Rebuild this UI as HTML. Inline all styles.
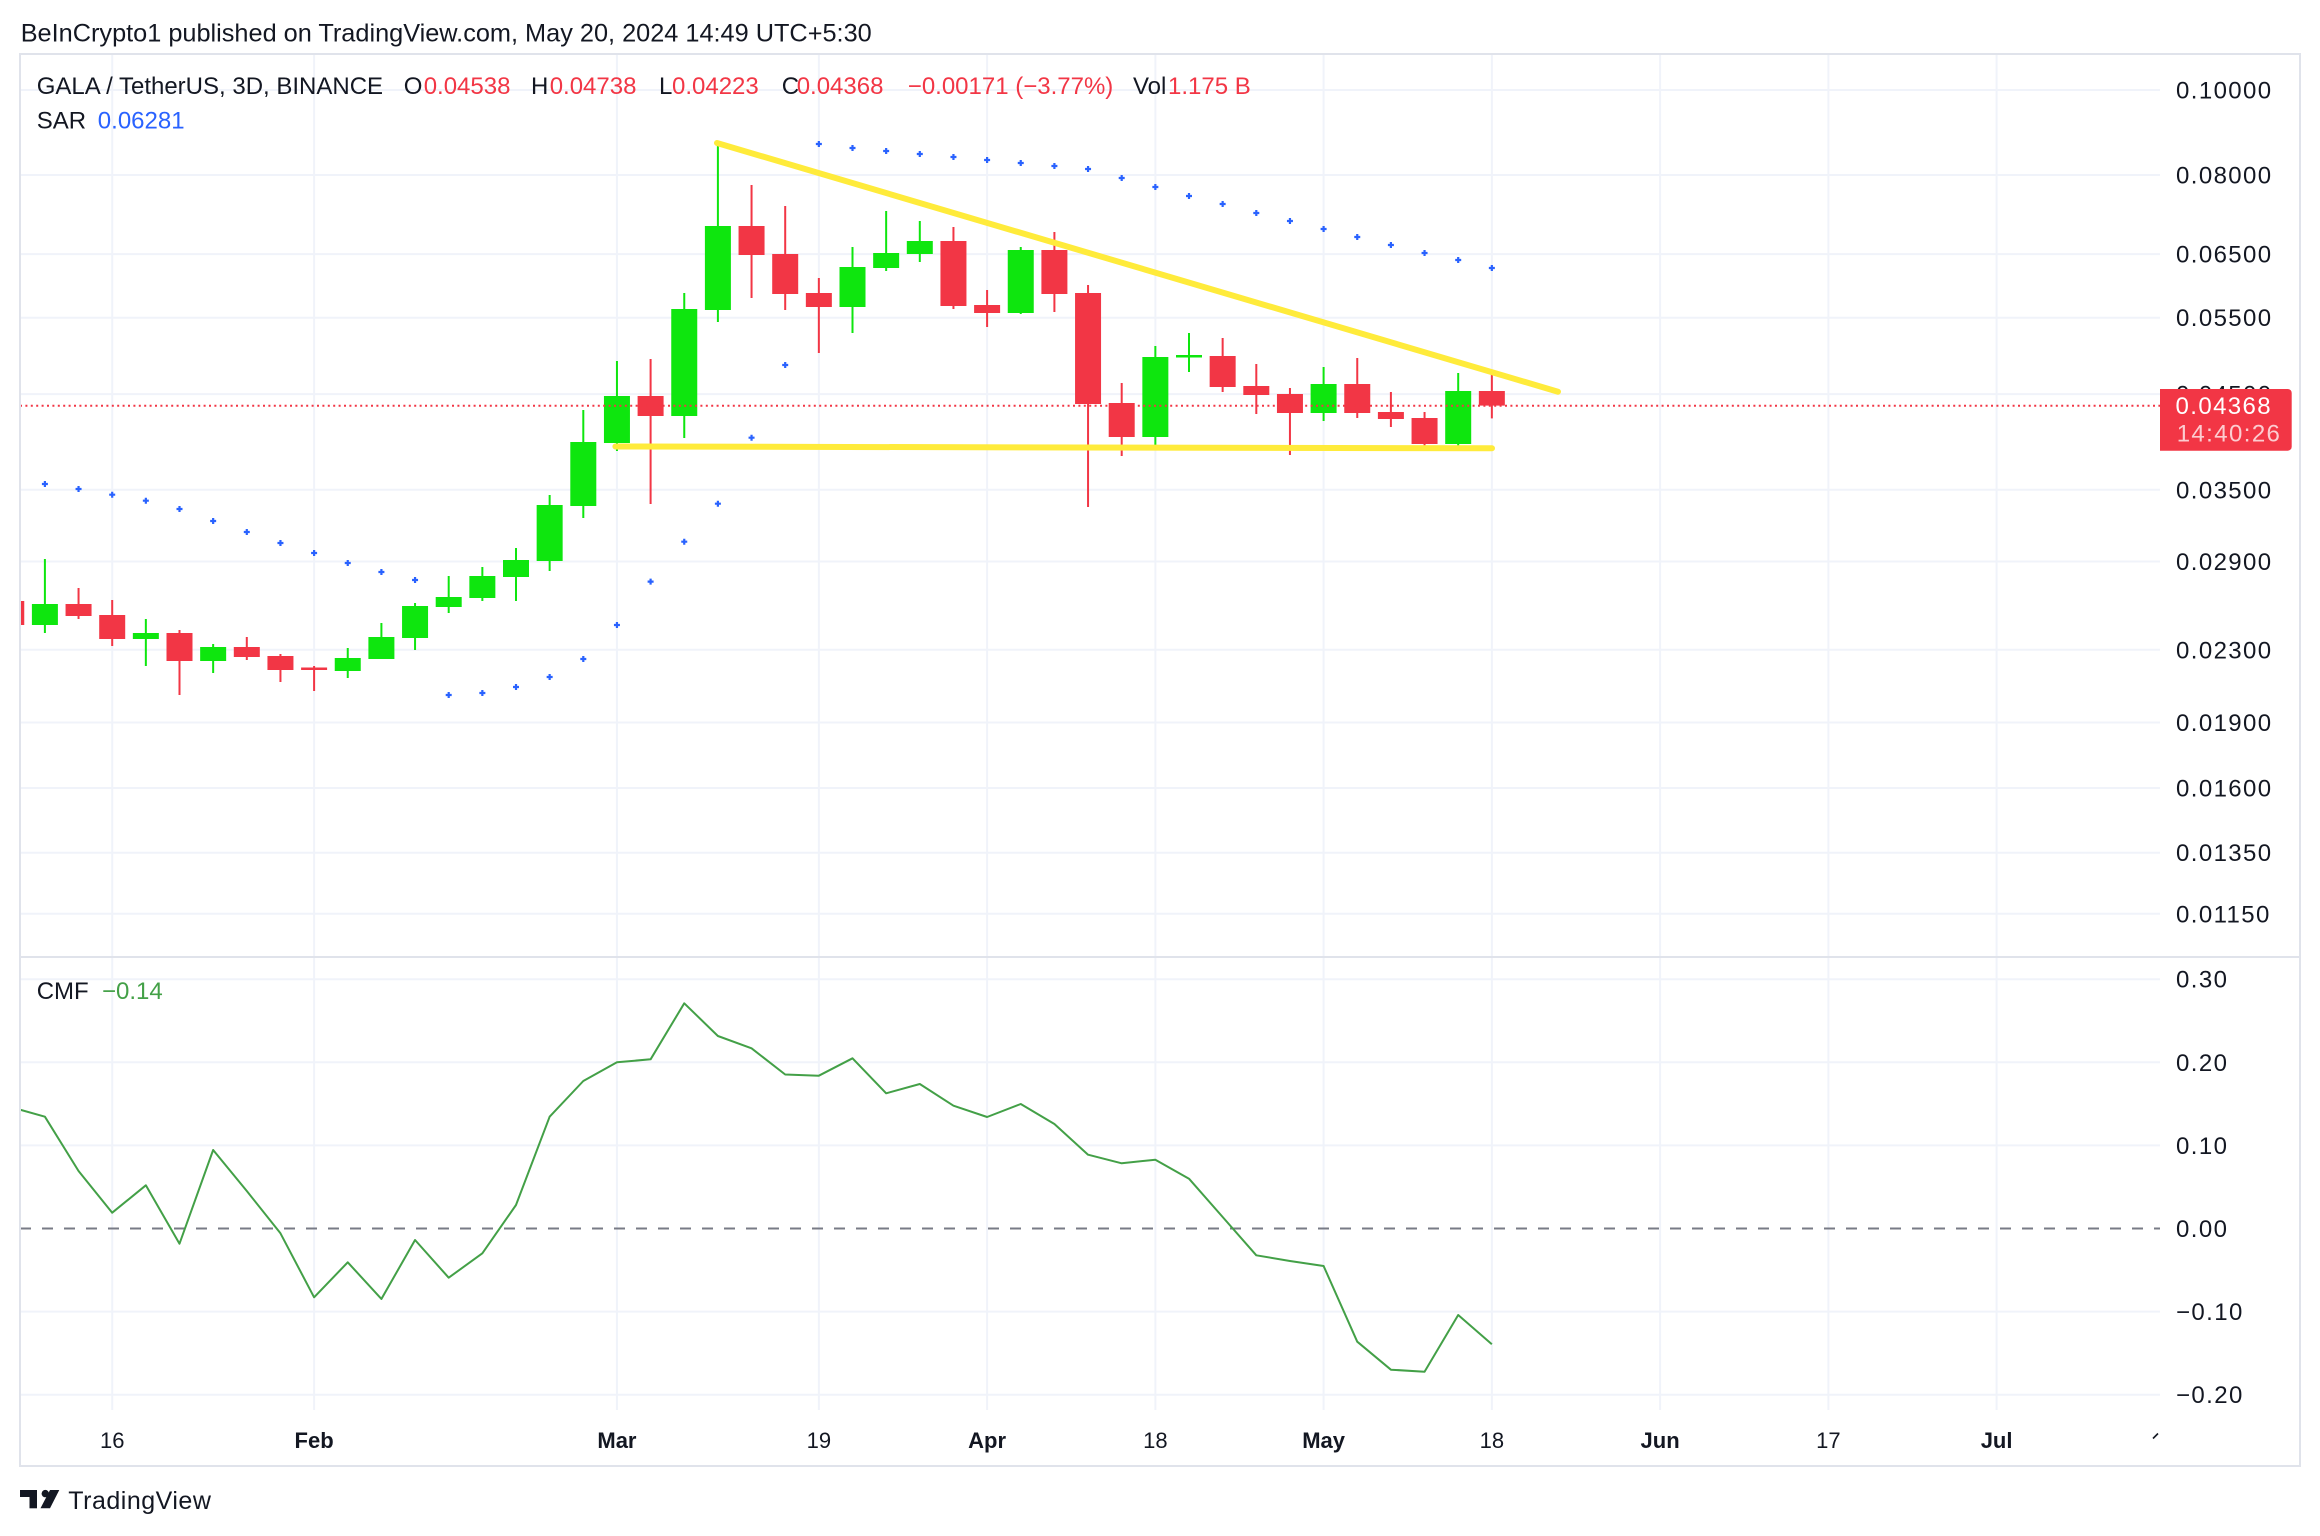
<!DOCTYPE html>
<html>
<head>
<meta charset="utf-8">
<style>
html,body{margin:0;padding:0;background:#fff;}
svg{display:block;}
text{font-family:"Liberation Sans",Arial,sans-serif;}
.g{fill:#0ee60e;}
.r{fill:#f23645;}
.ax{font-size:24px;fill:#131722;letter-spacing:1.4px;}
.tl{font-size:22px;fill:#131722;text-anchor:middle;}
.tb{font-size:22px;fill:#131722;text-anchor:middle;font-weight:bold;}
.lg{font-size:24px;fill:#131722;}
.red{fill:#f23645;}
</style>
</head>
<body>
<svg width="2320" height="1536" viewBox="0 0 2320 1536" xmlns="http://www.w3.org/2000/svg">
<defs>
<clipPath id="pp"><rect x="20" y="55" width="2140" height="902"/></clipPath>
<clipPath id="cp"><rect x="20" y="958" width="2140" height="452"/></clipPath>
</defs>
<rect x="0" y="0" width="2320" height="1536" fill="#fff"/>

<!-- header -->
<text x="20.7" y="41.7" style="font-size:25.3px;fill:#131722">BeInCrypto1 published on TradingView.com, May 20, 2024 14:49 UTC+5:30</text>

<!-- vertical gridlines -->
<g stroke="#f0f3fa" stroke-width="2">
<line x1="112.2" y1="55" x2="112.2" y2="1410"/>
<line x1="314.1" y1="55" x2="314.1" y2="1410"/>
<line x1="616.95" y1="55" x2="616.95" y2="1410"/>
<line x1="818.85" y1="55" x2="818.85" y2="1410"/>
<line x1="987.1" y1="55" x2="987.1" y2="1410"/>
<line x1="1155.35" y1="55" x2="1155.35" y2="1410"/>
<line x1="1323.6" y1="55" x2="1323.6" y2="1410"/>
<line x1="1491.85" y1="55" x2="1491.85" y2="1410"/>
<line x1="1660.1" y1="55" x2="1660.1" y2="1410"/>
<line x1="1828.35" y1="55" x2="1828.35" y2="1410"/>
<line x1="1996.6" y1="55" x2="1996.6" y2="1410"/>
</g>
<!-- horizontal gridlines price -->
<g stroke="#f0f3fa" stroke-width="2">
<line x1="20" y1="90" x2="2160" y2="90"/>
<line x1="20" y1="175" x2="2160" y2="175"/>
<line x1="20" y1="254.1" x2="2160" y2="254.1"/>
<line x1="20" y1="317.7" x2="2160" y2="317.7"/>
<line x1="20" y1="394.1" x2="2160" y2="394.1"/>
<line x1="20" y1="489.8" x2="2160" y2="489.8"/>
<line x1="20" y1="561.5" x2="2160" y2="561.5"/>
<line x1="20" y1="649.8" x2="2160" y2="649.8"/>
<line x1="20" y1="722.5" x2="2160" y2="722.5"/>
<line x1="20" y1="788" x2="2160" y2="788"/>
<line x1="20" y1="852.7" x2="2160" y2="852.7"/>
<line x1="20" y1="913.8" x2="2160" y2="913.8"/>
<line x1="20" y1="979.2" x2="2160" y2="979.2"/>
<line x1="20" y1="1062.3" x2="2160" y2="1062.3"/>
<line x1="20" y1="1145.4" x2="2160" y2="1145.4"/>
<line x1="20" y1="1311.6" x2="2160" y2="1311.6"/>
<line x1="20" y1="1394.7" x2="2160" y2="1394.7"/>
</g>

<!-- candles -->
<g clip-path="url(#pp)">
<rect class="r" x="-1.75" y="601" width="26" height="24"/>
<rect class="g" x="43.9" y="559" width="2" height="74"/><rect class="g" x="31.9" y="604" width="26" height="21"/>
<rect class="r" x="77.55" y="588" width="2" height="31"/><rect class="r" x="65.55" y="604" width="26" height="12"/>
<rect class="r" x="111.2" y="600" width="2" height="46"/><rect class="r" x="99.2" y="615" width="26" height="24"/>
<rect class="g" x="144.85" y="619" width="2" height="47"/><rect class="g" x="132.85" y="633" width="26" height="6"/>
<rect class="r" x="178.5" y="630" width="2" height="65"/><rect class="r" x="166.5" y="633" width="26" height="28"/>
<rect class="g" x="212.15" y="644" width="2" height="29"/><rect class="g" x="200.15" y="647" width="26" height="14"/>
<rect class="r" x="245.8" y="637" width="2" height="23"/><rect class="r" x="233.8" y="647" width="26" height="10"/>
<rect class="r" x="279.45" y="654" width="2" height="28"/><rect class="r" x="267.45" y="656" width="26" height="14"/>
<rect class="r" x="313.1" y="666" width="2" height="25"/><rect class="r" x="301.1" y="667.5" width="26" height="2.5"/>
<rect class="g" x="346.75" y="648" width="2" height="30"/><rect class="g" x="334.75" y="658" width="26" height="13"/>
<rect class="g" x="380.4" y="623" width="2" height="36"/><rect class="g" x="368.4" y="637" width="26" height="22"/>
<rect class="g" x="414.05" y="603" width="2" height="47"/><rect class="g" x="402.05" y="606" width="26" height="32"/>
<rect class="g" x="447.7" y="576" width="2" height="37"/><rect class="g" x="435.7" y="597" width="26" height="10"/>
<rect class="g" x="481.35" y="567" width="2" height="34"/><rect class="g" x="469.35" y="576" width="26" height="22"/>
<rect class="g" x="515" y="548" width="2" height="53"/><rect class="g" x="503" y="560" width="26" height="17"/>
<rect class="g" x="548.65" y="495" width="2" height="76"/><rect class="g" x="536.65" y="505" width="26" height="56"/>
<rect class="g" x="582.3" y="410" width="2" height="108"/><rect class="g" x="570.3" y="442" width="26" height="64"/>
<rect class="g" x="615.95" y="361" width="2" height="90"/><rect class="g" x="603.95" y="396" width="26" height="47"/>
<rect class="r" x="649.6" y="359" width="2" height="145"/><rect class="r" x="637.6" y="396" width="26" height="20"/>
<rect class="g" x="683.25" y="293" width="2" height="145"/><rect class="g" x="671.25" y="309" width="26" height="107"/>
<rect class="g" x="716.9" y="143" width="2" height="179"/><rect class="g" x="704.9" y="226" width="26" height="84"/>
<rect class="r" x="750.55" y="185" width="2" height="113"/><rect class="r" x="738.55" y="226" width="26" height="29"/>
<rect class="r" x="784.2" y="206" width="2" height="104"/><rect class="r" x="772.2" y="254" width="26" height="40"/>
<rect class="r" x="817.85" y="278" width="2" height="75"/><rect class="r" x="805.85" y="293" width="26" height="14"/>
<rect class="g" x="851.5" y="247" width="2" height="86"/><rect class="g" x="839.5" y="267" width="26" height="40"/>
<rect class="g" x="885.15" y="211" width="2" height="60"/><rect class="g" x="873.15" y="253" width="26" height="15"/>
<rect class="g" x="918.8" y="221" width="2" height="41"/><rect class="g" x="906.8" y="241" width="26" height="13"/>
<rect class="r" x="952.45" y="227" width="2" height="82"/><rect class="r" x="940.45" y="241" width="26" height="65"/>
<rect class="r" x="986.1" y="290" width="2" height="37"/><rect class="r" x="974.1" y="305" width="26" height="8"/>
<rect class="g" x="1019.75" y="247" width="2" height="67"/><rect class="g" x="1007.75" y="250" width="26" height="63"/>
<rect class="r" x="1053.4" y="232" width="2" height="80"/><rect class="r" x="1041.4" y="250" width="26" height="44"/>
<rect class="r" x="1087.05" y="285" width="2" height="222"/><rect class="r" x="1075.05" y="293" width="26" height="111"/>
<rect class="r" x="1120.7" y="383" width="2" height="73"/><rect class="r" x="1108.7" y="403" width="26" height="34"/>
<rect class="g" x="1154.35" y="346" width="2" height="101"/><rect class="g" x="1142.35" y="357" width="26" height="80"/>
<rect class="g" x="1188" y="333" width="2" height="39"/><rect class="g" x="1176" y="355" width="26" height="2.5"/>
<rect class="r" x="1221.65" y="338" width="2" height="54"/><rect class="r" x="1209.65" y="356" width="26" height="31"/>
<rect class="r" x="1255.3" y="364" width="2" height="50"/><rect class="r" x="1243.3" y="386" width="26" height="9"/>
<rect class="r" x="1288.95" y="388" width="2" height="67"/><rect class="r" x="1276.95" y="394" width="26" height="19"/>
<rect class="g" x="1322.6" y="367" width="2" height="54"/><rect class="g" x="1310.6" y="384" width="26" height="29"/>
<rect class="r" x="1356.25" y="358" width="2" height="60"/><rect class="r" x="1344.25" y="384" width="26" height="29"/>
<rect class="r" x="1389.9" y="392" width="2" height="35"/><rect class="r" x="1377.9" y="412" width="26" height="7"/>
<rect class="r" x="1423.55" y="412" width="2" height="36"/><rect class="r" x="1411.55" y="418" width="26" height="26"/>
<rect class="g" x="1457.2" y="373" width="2" height="74"/><rect class="g" x="1445.2" y="391" width="26" height="53"/>
<rect class="r" x="1490.85" y="374.6" width="2" height="43.8"/><rect class="r" x="1478.85" y="391" width="26" height="14.6"/>

<!-- SAR -->
<path fill="none" stroke="#2962ff" stroke-width="2.2" d="
M41.9 484h6M44.9 481v6
M75.55 489h6M78.55 486v6
M109.2 494.7h6M112.2 491.7v6
M142.85 500.7h6M145.85 497.7v6
M176.5 509h6M179.5 506v6
M210.15 521h6M213.15 518v6
M243.8 532h6M246.8 529v6
M277.45 543h6M280.45 540v6
M311.1 553h6M314.1 550v6
M344.75 563h6M347.75 560v6
M378.4 572h6M381.4 569v6
M412.05 580h6M415.05 577v6
M445.7 695h6M448.7 692v6
M479.35 693h6M482.35 690v6
M513 687h6M516 684v6
M546.65 677h6M549.65 674v6
M580.3 659h6M583.3 656v6
M613.95 625h6M616.95 622v6
M647.6 581.6h6M650.6 578.6v6
M681.25 541.7h6M684.25 538.7v6
M714.9 503.7h6M717.9 500.7v6
M748.55 437.7h6M751.55 434.7v6
M782.2 365h6M785.2 362v6
M815.85 144h6M818.85 141v6
M849.5 148h6M852.5 145v6
M883.15 151h6M886.15 148v6
M916.8 154h6M919.8 151v6
M950.45 157h6M953.45 154v6
M984.1 160h6M987.1 157v6
M1017.75 163h6M1020.75 160v6
M1051.4 166h6M1054.4 163v6
M1085.05 169h6M1088.05 166v6
M1118.7 178h6M1121.7 175v6
M1152.35 187h6M1155.35 184v6
M1186 196h6M1189 193v6
M1219.65 204h6M1222.65 201v6
M1253.3 213h6M1256.3 210v6
M1286.95 221h6M1289.95 218v6
M1320.6 229h6M1323.6 226v6
M1354.25 237h6M1357.25 234v6
M1387.9 245h6M1390.9 242v6
M1421.55 253h6M1424.55 250v6
M1455.2 260h6M1458.2 257v6
M1488.85 268h6M1491.85 265v6"/>

<!-- last price dotted line -->
<line x1="20" y1="405.7" x2="2160" y2="405.7" stroke="#f23645" stroke-width="2" stroke-dasharray="2 3.4"/>

<!-- trend lines -->
<line x1="717" y1="143" x2="1558" y2="391.7" stroke="#ffeb3b" stroke-width="6" stroke-linecap="round"/>
<line x1="615.4" y1="446.5" x2="1492" y2="448.3" stroke="#ffeb3b" stroke-width="6" stroke-linecap="round"/>
</g>

<!-- CMF pane -->
<line x1="20" y1="1228.5" x2="2160" y2="1228.5" stroke="#787b86" stroke-width="2" stroke-dasharray="11 11"/>
<g clip-path="url(#cp)">
<polyline fill="none" stroke="#43a047" stroke-width="2" stroke-linejoin="round" points="11.25,1107.2 44.9,1116.7 78.55,1171 112.2,1212.7 145.85,1185.3 179.5,1243.7 213.15,1150 246.8,1191 280.45,1233.3 314.1,1297.3 347.75,1262.3 381.4,1299 415.05,1240 448.7,1277.7 482.35,1253.3 516,1205 549.65,1116.7 583.3,1081 616.95,1062.3 650.6,1059.3 684.25,1003.3 717.9,1036 751.55,1048.3 785.2,1074.5 818.85,1075.7 852.5,1058.3 886.15,1093.3 919.8,1084 953.45,1105.7 987.1,1117 1020.75,1104 1054.4,1124 1088.05,1154.7 1121.7,1163.3 1155.35,1159.7 1189,1178.7 1222.65,1217 1256.3,1255.3 1289.95,1261 1323.6,1266 1357.25,1341.7 1390.9,1369.7 1424.55,1371.7 1458.2,1315 1491.85,1344.3"/>
</g>

<!-- frame and separators -->
<rect x="20" y="54" width="2280" height="1412" fill="none" stroke="#e0e3eb" stroke-width="2"/>
<line x1="20" y1="957" x2="2300" y2="957" stroke="#e0e3eb" stroke-width="2"/>

<!-- legends -->
<text class="lg" y="94"><tspan x="36.7">GALA / TetherUS, 3D, BINANCE</tspan><tspan x="403.8">O</tspan><tspan x="423.7" class="red">0.04538</tspan><tspan x="531">H</tspan><tspan x="549.7" class="red">0.04738</tspan><tspan x="659">L</tspan><tspan x="672" class="red">0.04223</tspan><tspan x="781.8">C</tspan><tspan x="796.7" class="red">0.04368</tspan><tspan x="907.8" class="red">−0.00171 (−3.77%)</tspan><tspan x="1133">Vol</tspan><tspan x="1168" class="red">1.175 B</tspan></text>
<text class="lg" y="128.7"><tspan x="36.7">SAR</tspan><tspan x="97.8" style="fill:#2962ff">0.06281</tspan></text>
<text class="lg" y="999"><tspan x="36.7">CMF</tspan><tspan x="102" style="fill:#43a047">−0.14</tspan></text>

<!-- price axis labels -->
<g class="ax">
<text x="2176" y="98.5">0.10000</text>
<text x="2176" y="183.5">0.08000</text>
<text x="2176" y="262.6">0.06500</text>
<text x="2176" y="326.2">0.05500</text>
<text x="2176" y="402.6">0.04500</text>
<text x="2176" y="498.3">0.03500</text>
<text x="2176" y="570">0.02900</text>
<text x="2176" y="658.3">0.02300</text>
<text x="2176" y="731">0.01900</text>
<text x="2176" y="796.5">0.01600</text>
<text x="2176" y="861.2">0.01350</text>
<text x="2176" y="922.3">0.01150</text>
<text x="2176" y="987.7">0.30</text>
<text x="2176" y="1070.8">0.20</text>
<text x="2176" y="1153.9">0.10</text>
<text x="2176" y="1237">0.00</text>
<text x="2176" y="1320.1">−0.10</text>
<text x="2176" y="1403.2">−0.20</text>
</g>

<!-- last price badge -->
<path d="M2160 389 H2287.7 A4 4 0 0 1 2291.7 393 V446.7 A4 4 0 0 1 2287.7 450.7 H2160 Z" fill="#f23645"/>
<text x="2175.5" y="414" style="font-size:24px;fill:#ffffff;letter-spacing:1.4px">0.04368</text>
<text x="2176.7" y="441.7" style="font-size:24px;fill:#ffffff;fill-opacity:0.75;letter-spacing:1.4px">14:40:26</text>

<!-- time axis -->
<text class="tl" x="112.2" y="1448">16</text>
<text class="tb" x="314.1" y="1448">Feb</text>
<text class="tb" x="616.95" y="1448">Mar</text>
<text class="tl" x="818.85" y="1448">19</text>
<text class="tb" x="987.1" y="1448">Apr</text>
<text class="tl" x="1155.35" y="1448">18</text>
<text class="tb" x="1323.6" y="1448">May</text>
<text class="tl" x="1491.85" y="1448">18</text>
<text class="tb" x="1660.1" y="1448">Jun</text>
<text class="tl" x="1828.35" y="1448">17</text>
<text class="tb" x="1996.6" y="1448">Jul</text>
<line x1="2153" y1="1438.5" x2="2158" y2="1433.5" stroke="#131722" stroke-width="1.6"/>

<!-- TradingView logo -->
<g fill="#131722">
<rect x="20" y="1490" width="17" height="7"/>
<rect x="29.5" y="1490" width="7.5" height="18.3"/>
<circle cx="45.3" cy="1493.6" r="3.7"/>
<polygon points="50,1490 59.3,1490 50,1508.3 40.5,1508.3"/>
</g>
<text x="68.3" y="1509" style="font-size:25px;fill:#131722;letter-spacing:0.5px">TradingView</text>
</svg>
</body>
</html>
